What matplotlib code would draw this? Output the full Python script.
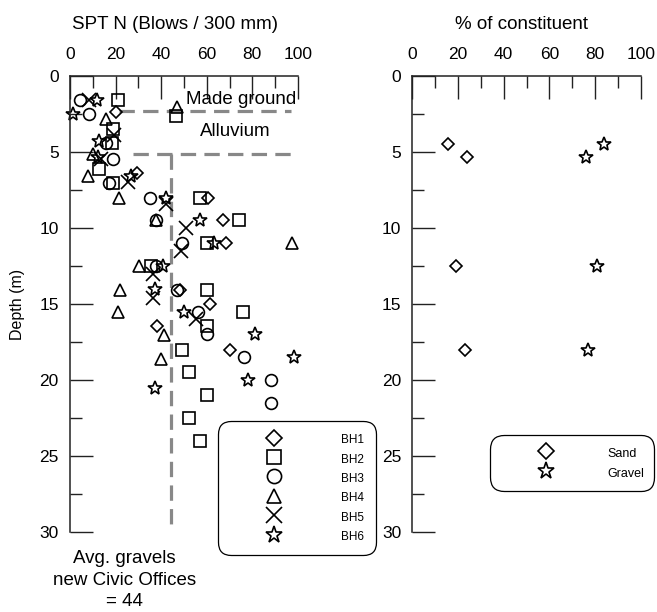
import matplotlib
matplotlib.use("Agg")
import matplotlib.pyplot as plt
from matplotlib.ticker import MultipleLocator

plt.rcParams['font.family'] = ['Liberation Sans', 'DejaVu Sans']

bh1_n = [20.2, 29.4, 60.5, 67.2, 68.3, 48.1, 61.4, 38.2, 70.2]
bh1_depth = [2.35, 6.4, 8.0, 9.45, 11.0, 14.05, 15.0, 16.45, 18.0]

bh2_n = [21.0, 46.4, 18.8, 18.3, 12.9, 18.8, 57.0, 74.0, 59.9, 35.7, 59.9, 76.0, 59.9, 49.3, 52.3, 60.2, 52.3, 57.2]
bh2_depth = [1.55, 2.6, 3.5, 4.4, 6.1, 7.05, 8.0, 9.5, 11.0, 12.5, 14.05, 15.5, 16.45, 18.0, 19.5, 21.0, 22.5, 24.0]

bh3_n = [4.5, 8.2, 15.9, 18.8, 17.0, 35.0, 37.8, 49.3, 37.8, 47.0, 56.2, 59.9, 76.3, 88.0, 88.0]
bh3_depth = [1.55, 2.5, 4.4, 5.45, 7.05, 8.0, 9.5, 11.0, 12.5, 14.05, 15.5, 17.0, 18.5, 20.0, 21.5]

bh4_n = [47.0, 15.8, 10.0, 7.8, 21.7, 37.8, 97.4, 30.2, 22.0, 21.0, 41.1, 40.1]
bh4_depth = [2.05, 2.8, 5.1, 6.55, 8.0, 9.5, 11.0, 12.5, 14.05, 15.55, 17.05, 18.6]

bh5_n = [8.5, 19.5, 13.7, 25.4, 42.3, 51.0, 48.5, 36.4, 36.4, 55.5]
bh5_depth = [1.55, 3.9, 5.45, 7.0, 8.4, 10.0, 11.5, 13.0, 14.6, 16.0]

bh6_n = [12.0, 1.5, 12.6, 12.5, 26.9, 42.3, 57.0, 63.0, 40.8, 37.1, 49.9, 81.2, 98.4, 78.2, 37.1]
bh6_depth = [1.55, 2.5, 4.25, 5.3, 6.55, 8.0, 9.45, 11.0, 12.5, 14.0, 15.5, 17.0, 18.5, 20.0, 20.55]

# grading results (% of constituent)
sand_pct = [15.8, 23.8, 19.1, 23.0]
sand_depth = [4.5, 5.33, 12.5, 18.0]
gravel_pct = [84.0, 76.0, 80.7, 77.0]
gravel_depth = [4.5, 5.33, 12.5, 18.0]

# stratum boundaries and average N
made_ground_base = 2.3
alluvium_base = 5.1
avg_gravel_n = 44.5

MS = 8.5
MEW = 1.2


def style_axis(ax):
    ax.set_xlim(0, 100)
    ax.set_ylim(30, 0)
    ax.xaxis.tick_top()
    ax.xaxis.set_label_position('top')
    ax.xaxis.set_major_locator(MultipleLocator(20))
    ax.xaxis.set_minor_locator(MultipleLocator(10))
    ax.yaxis.set_major_locator(MultipleLocator(5))
    ax.yaxis.set_minor_locator(MultipleLocator(2.5))
    ax.tick_params(which='both', direction='in', width=1.0, color='#222222', labelsize=12.5)
    ax.tick_params(which='major', length=16.5)
    ax.tick_params(which='minor', length=8.5)
    ax.tick_params(axis='x', which='major', pad=10)
    ax.tick_params(axis='y', which='major', pad=8)
    for side in ['right', 'bottom']:
        ax.spines[side].set_visible(False)
    for side in ['left', 'top']:
        ax.spines[side].set_linewidth(1.1)
        ax.spines[side].set_color('#222222')


def pts(ax, x, y, marker, label, ms=MS):
    ax.plot(x, y, linestyle='none', marker=marker, markersize=ms, markerfacecolor='none',
            markeredgecolor='black', markeredgewidth=MEW, label=label, clip_on=False)


fig = plt.figure(figsize=(6.57, 6.12), dpi=100)
ax1 = fig.add_axes([0.1065, 0.1307, 0.347, 0.7451])
ax2 = fig.add_axes([0.6276, 0.1307, 0.3476, 0.7451])

# left: SPT N profile
style_axis(ax1)
dash = dict(color='#888888', linewidth=2.3, dashes=(4.8, 2.6))
ax1.plot([21.7, 97], [made_ground_base, made_ground_base], **dash)
ax1.plot([27.5, 100], [alluvium_base, alluvium_base], **dash)
ax1.plot([avg_gravel_n, avg_gravel_n], [alluvium_base, 29.9], **dash)

pts(ax1, bh1_n, bh1_depth, 'D', 'BH1', ms=6.5)
pts(ax1, bh2_n, bh2_depth, 's', 'BH2')
pts(ax1, bh3_n, bh3_depth, 'o', 'BH3')
pts(ax1, bh4_n, bh4_depth, '^', 'BH4')
pts(ax1, bh5_n, bh5_depth, 'x', 'BH5', ms=9.5)
pts(ax1, bh6_n, bh6_depth, '*', 'BH6', ms=10.5)

ax1.text(50.8, 1.55, 'Made ground', fontsize=13.5, va='center', ha='left')
ax1.text(57, 3.65, 'Alluvium', fontsize=13.5, va='center', ha='left')
ax1.text(23.8, 31.2, 'Avg. gravels\nnew Civic Offices\n= 44', fontsize=13.5, ha='center',
         va='top', linespacing=1.35, clip_on=False)

ax1.set_xlabel('SPT N (Blows / 300 mm)', fontsize=13.5)
ax1.xaxis.set_label_coords(0.46, 1.095)
ax1.xaxis.label.set_va('bottom')
ax1.set_ylabel('Depth (m)', fontsize=11.5, labelpad=10)

leg1 = ax1.legend(loc='upper left', bbox_to_anchor=(218 / 657, 1 - 421 / 612),
                  bbox_transform=fig.transFigure, fontsize=8.5, numpoints=1, markerscale=1.2,
                  handlelength=7.6, handleheight=1.5, handletextpad=1.9, labelspacing=0.42,
                  borderpad=0.95, borderaxespad=0, fancybox=True, framealpha=1,
                  edgecolor='black')
leg1.get_frame().set_boxstyle('round,pad=0,rounding_size=1.1')
leg1.get_frame().set_linewidth(0.9)

# right: grading
style_axis(ax2)
ax2.set_xlabel('% of constituent', fontsize=13.5)
ax2.xaxis.set_label_coords(0.48, 1.095)
ax2.xaxis.label.set_va('bottom')
pts(ax2, sand_pct, sand_depth, 'D', 'Sand', ms=6.5)
pts(ax2, gravel_pct, gravel_depth, '*', 'Gravel', ms=10.5)

leg2 = ax2.legend(loc='upper left', bbox_to_anchor=(490 / 657, 1 - 435 / 612),
                  bbox_transform=fig.transFigure, fontsize=9, numpoints=1, markerscale=1.2,
                  handlelength=7.4, handleheight=1.5, handletextpad=1.2, labelspacing=0.4,
                  borderpad=0.8, borderaxespad=0, fancybox=True, framealpha=1,
                  edgecolor='black')
leg2.get_frame().set_boxstyle('round,pad=0,rounding_size=1.1')
leg2.get_frame().set_linewidth(0.9)

fig.savefig('out.png', dpi=100)
